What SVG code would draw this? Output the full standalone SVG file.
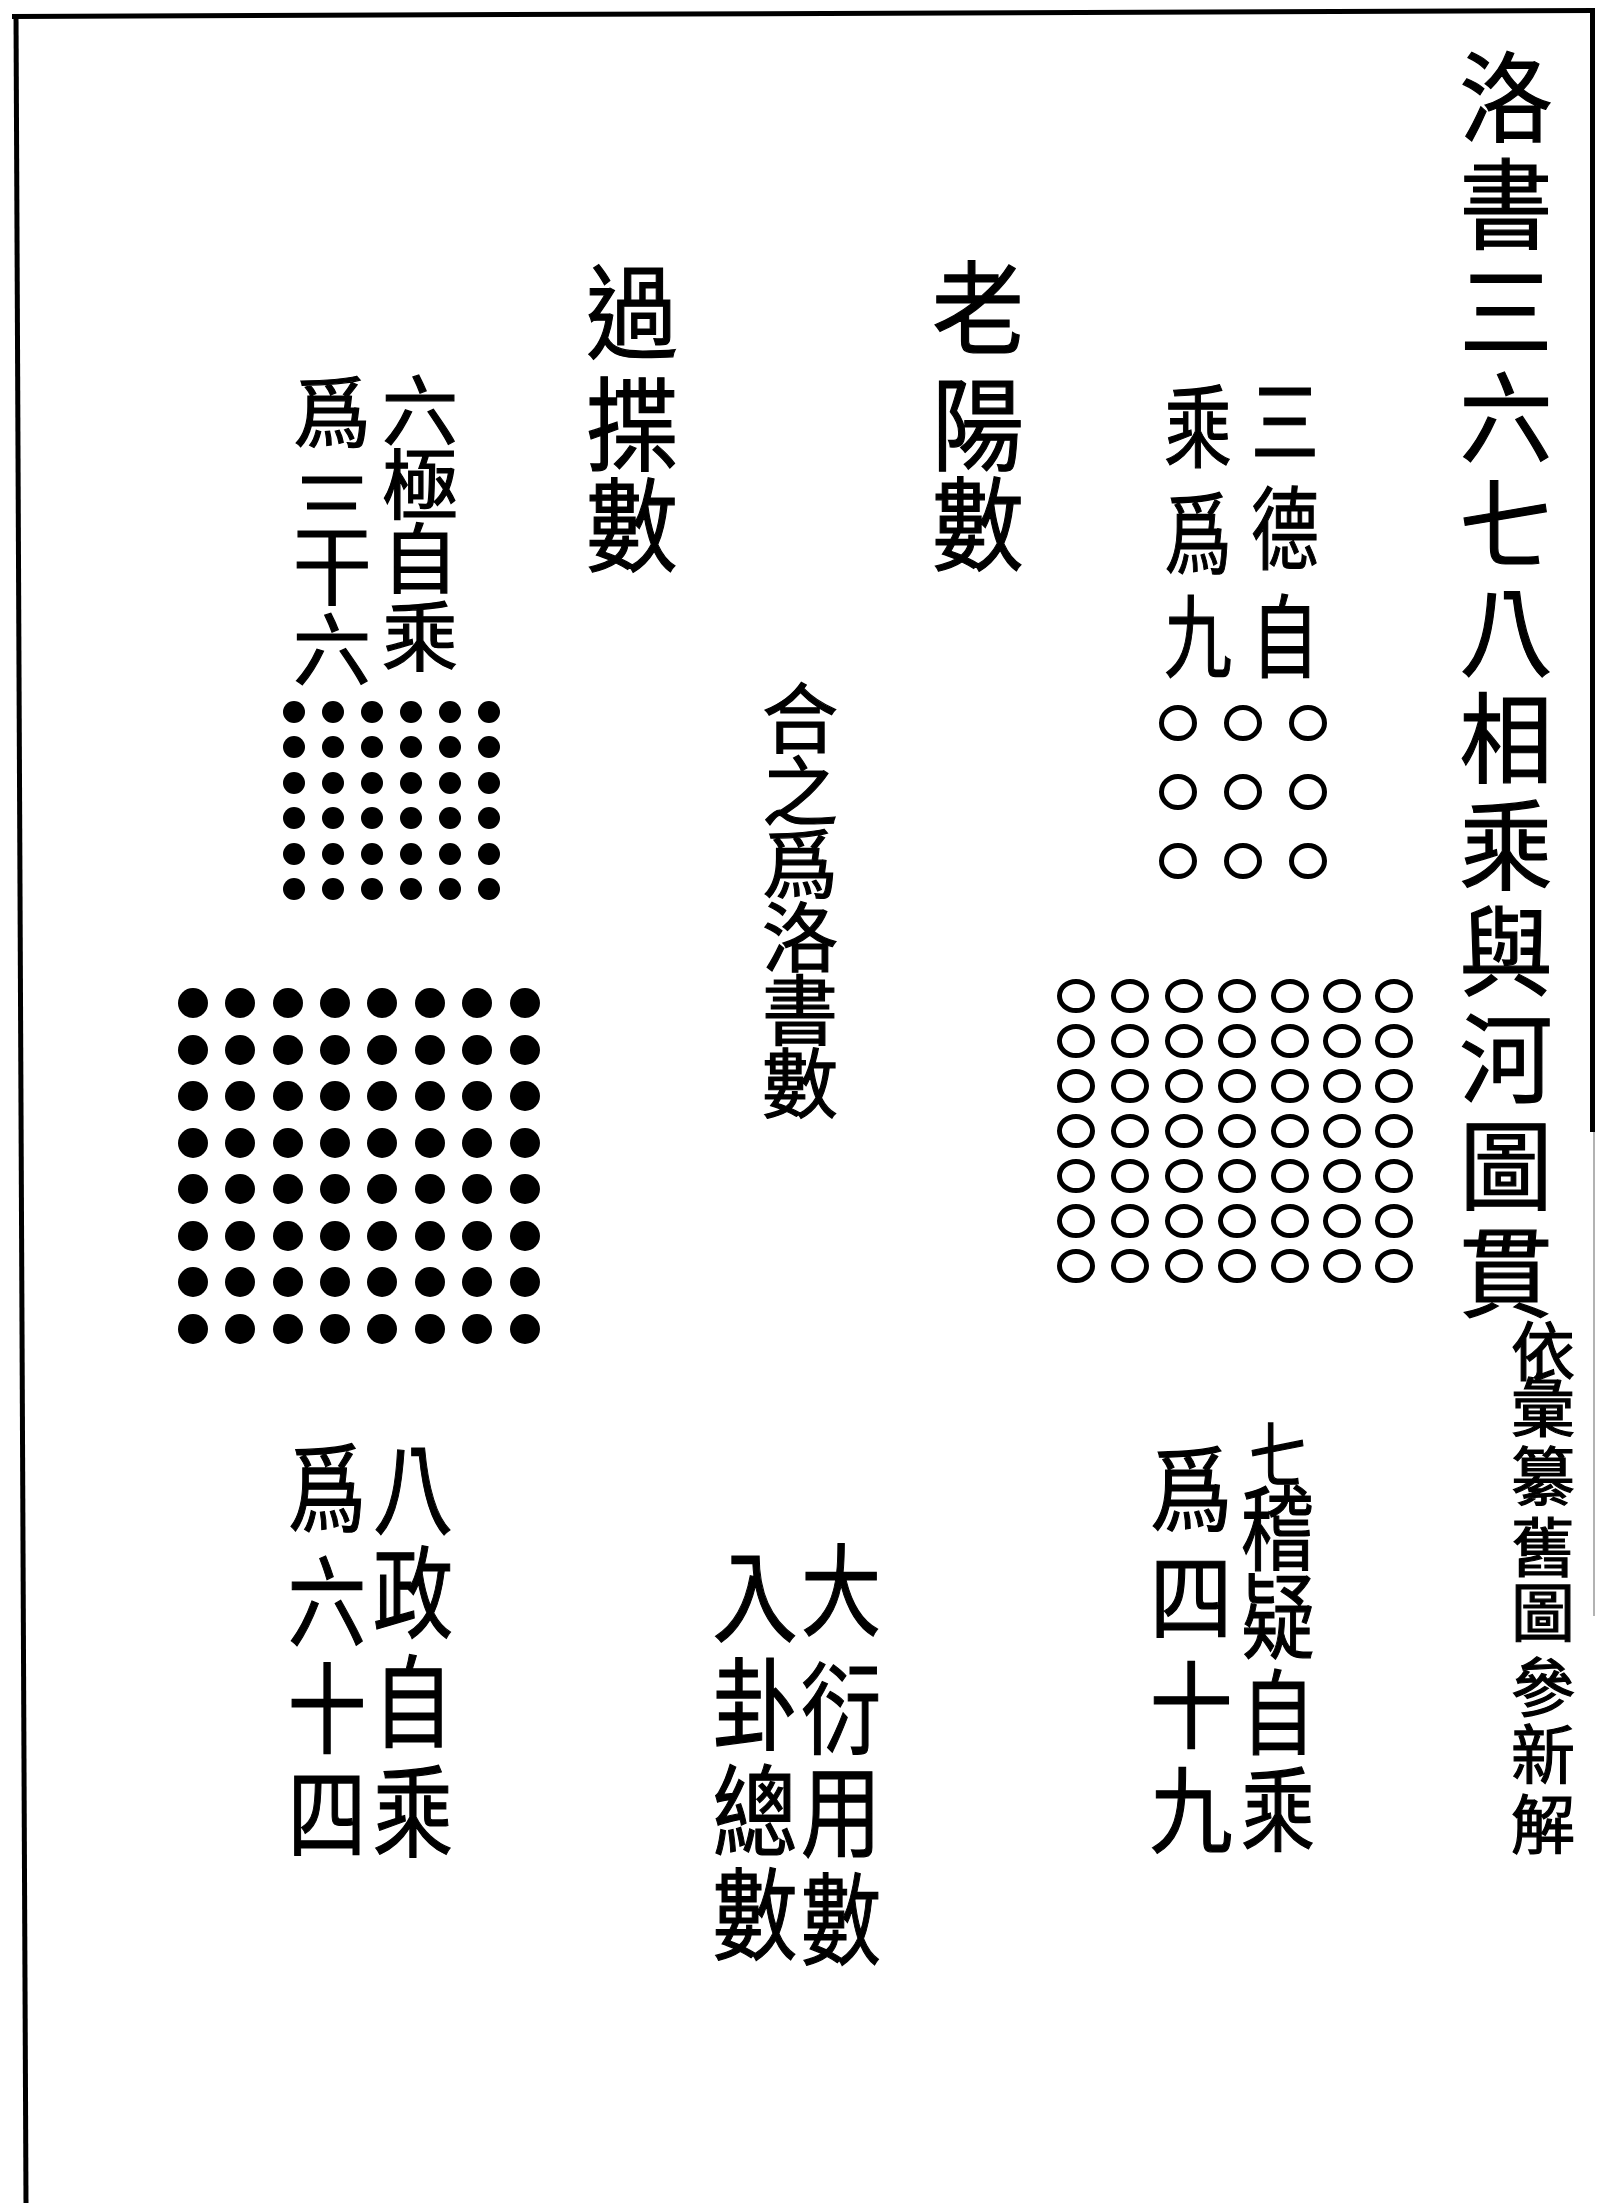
<svg xmlns="http://www.w3.org/2000/svg" width="1597" height="2203" viewBox="0 0 1597 2203">
<style>
.t{font-family:"Noto Sans CJK TC","Noto Sans CJK SC",sans-serif;fill:#000;stroke:#000;stroke-width:1.2;text-anchor:middle;dominant-baseline:central}
.o{fill:none;stroke:#000;stroke-width:5}
.d{fill:#000}
.frame{stroke:#000;stroke-width:5;fill:none}
</style>
<defs>
<g id="r3"><ellipse class="o" cx="1178" cy="0" rx="16.5" ry="15.5"/><ellipse class="o" cx="1243" cy="0" rx="16.5" ry="15.5"/><ellipse class="o" cx="1308" cy="0" rx="16.5" ry="15.5"/></g>
<g id="r7"><ellipse class="o" cx="1076" cy="0" rx="16.5" ry="14.5"/><ellipse class="o" cx="1130" cy="0" rx="16.5" ry="14.5"/><ellipse class="o" cx="1184" cy="0" rx="16.5" ry="14.5"/><ellipse class="o" cx="1237" cy="0" rx="16.5" ry="14.5"/><ellipse class="o" cx="1290" cy="0" rx="16.5" ry="14.5"/><ellipse class="o" cx="1342" cy="0" rx="16.5" ry="14.5"/><ellipse class="o" cx="1394" cy="0" rx="16.5" ry="14.5"/></g>
<g id="r6"><circle class="d" cx="294" cy="0" r="11"/><circle class="d" cx="333" cy="0" r="11"/><circle class="d" cx="372" cy="0" r="11"/><circle class="d" cx="411" cy="0" r="11"/><circle class="d" cx="450" cy="0" r="11"/><circle class="d" cx="489" cy="0" r="11"/></g>
<g id="r8"><circle class="d" cx="193" cy="0" r="15"/><circle class="d" cx="240" cy="0" r="15"/><circle class="d" cx="288" cy="0" r="15"/><circle class="d" cx="335" cy="0" r="15"/><circle class="d" cx="382" cy="0" r="15"/><circle class="d" cx="430" cy="0" r="15"/><circle class="d" cx="477" cy="0" r="15"/><circle class="d" cx="525" cy="0" r="15"/></g>
</defs>
<rect x="0" y="0" width="1597" height="2203" fill="#fff"/>
<g id="frame">
<line class="frame" x1="12" y1="16.5" x2="1595" y2="10.5"/>
<line class="frame" x1="16" y1="14" x2="26" y2="2203"/>
<line class="frame" x1="1592.5" y1="8" x2="1592.5" y2="1132"/>
<line x1="1594" y1="1132" x2="1594" y2="1616" stroke="#999" stroke-width="1.5"/>
</g>
<g id="title">
<text class="t" font-size="98" transform="translate(1506 0) scale(0.95 1)"><tspan x="0" y="91">洛</tspan><tspan x="0" y="198">書</tspan><tspan x="0" y="305">三</tspan><tspan x="0" y="411">六</tspan><tspan x="0" y="518">七</tspan><tspan x="0" y="625">八</tspan><tspan x="0" y="732">相</tspan><tspan x="0" y="839">乘</tspan><tspan x="0" y="945">與</tspan><tspan x="0" y="1052">河</tspan><tspan x="0" y="1159">圖</tspan><tspan x="0" y="1266">貫</tspan></text>
</g>
<g id="note">
<text class="t" font-size="64" transform="translate(1543 0)"><tspan x="0" y="1347">依</tspan><tspan x="0" y="1403">彙</tspan><tspan x="0" y="1472">纂</tspan><tspan x="0" y="1543">舊</tspan><tspan x="0" y="1608">圖</tspan><tspan x="0" y="1683">參</tspan><tspan x="0" y="1750">新</tspan><tspan x="0" y="1820">解</tspan></text>
</g>
<g id="node-sande">
<text class="t" font-size="90" transform="translate(1285 0) scale(0.75 1)"><tspan x="0" y="415">三</tspan><tspan x="0" y="522">德</tspan><tspan x="0" y="630">自</tspan></text>
<text class="t" font-size="90" transform="translate(1198 0) scale(0.75 1)"><tspan x="0" y="420">乘</tspan><tspan x="0" y="527">爲</tspan><tspan x="0" y="630">九</tspan></text>
</g>
<g id="grid-3x3"><use href="#r3" y="723"/><use href="#r3" y="792"/><use href="#r3" y="861"/></g>
<g id="grid-7x7"><use href="#r7" y="996"/><use href="#r7" y="1041"/><use href="#r7" y="1086"/><use href="#r7" y="1131"/><use href="#r7" y="1176"/><use href="#r7" y="1221"/><use href="#r7" y="1266"/></g>
<g id="node-laoyang">
<text class="t" font-size="102" transform="translate(978 0) scale(0.9 1)"><tspan x="0" y="302">老</tspan><tspan x="0" y="418">陽</tspan><tspan x="0" y="518">數</tspan></text>
</g>
<g id="node-guoshe">
<text class="t" font-size="102" transform="translate(632 0) scale(0.9 1)"><tspan x="0" y="306">過</tspan><tspan x="0" y="418">揲</tspan><tspan x="0" y="519">數</tspan></text>
</g>
<g id="node-liuji">
<text class="t" font-size="76" transform="translate(420 0)"><tspan x="0" y="406">六</tspan><tspan x="0" y="480">極</tspan><tspan x="0" y="554">自</tspan><tspan x="0" y="632">乘</tspan></text>
<text class="t" font-size="78" transform="translate(332 0)"><tspan x="0" y="408">爲</tspan><tspan x="0" y="502">三</tspan><tspan x="0" y="565">十</tspan><tspan x="0" y="645">六</tspan></text>
</g>
<g id="grid-6x6"><use href="#r6" y="712"/><use href="#r6" y="747"/><use href="#r6" y="783"/><use href="#r6" y="818"/><use href="#r6" y="854"/><use href="#r6" y="889"/></g>
<g id="node-hezhi">
<text class="t" font-size="76" transform="translate(800 0)"><tspan x="0" y="714">合</tspan><tspan x="0" y="787">之</tspan><tspan x="0" y="860">爲</tspan><tspan x="0" y="933">洛</tspan><tspan x="0" y="1006">書</tspan><tspan x="0" y="1079">數</tspan></text>
</g>
<g id="grid-8x8"><use href="#r8" y="1003"/><use href="#r8" y="1050"/><use href="#r8" y="1096"/><use href="#r8" y="1143"/><use href="#r8" y="1189"/><use href="#r8" y="1236"/><use href="#r8" y="1282"/><use href="#r8" y="1329"/></g>
<g id="node-qiji">
<text class="t" font-size="92" transform="translate(1278 0) scale(0.8 1)"><tspan x="0" y="1450" font-size="72">七</tspan><tspan x="0" y="1522">稽</tspan><tspan x="0" y="1610">疑</tspan><tspan x="0" y="1706">自</tspan><tspan x="0" y="1803">乘</tspan></text>
<text class="t" font-size="94" transform="translate(1191 0) scale(0.88 1)"><tspan x="0" y="1484">爲</tspan><tspan x="0" y="1592">四</tspan><tspan x="0" y="1700">十</tspan><tspan x="0" y="1805">九</tspan></text>
</g>
<g id="node-dayan">
<text class="t" font-size="100" transform="translate(841 0) scale(0.8 1)"><tspan x="0" y="1584">大</tspan><tspan x="0" y="1702">衍</tspan><tspan x="0" y="1805">用</tspan><tspan x="0" y="1913">數</tspan></text>
<text class="t" font-size="100" transform="translate(755 0) scale(0.85 1)"><tspan x="0" y="1590">入</tspan><tspan x="0" y="1698">卦</tspan><tspan x="0" y="1805">總</tspan><tspan x="0" y="1908">數</tspan></text>
</g>
<g id="node-bazheng">
<text class="t" font-size="100" transform="translate(413 0) scale(0.8 1)"><tspan x="0" y="1482">八</tspan><tspan x="0" y="1586">政</tspan><tspan x="0" y="1695">自</tspan><tspan x="0" y="1805">乘</tspan></text>
<text class="t" font-size="98" transform="translate(327 0) scale(0.8 1)"><tspan x="0" y="1482">爲</tspan><tspan x="0" y="1595">六</tspan><tspan x="0" y="1702">十</tspan><tspan x="0" y="1807">四</tspan></text>
</g>
<g id="connectors"/>
</svg>
